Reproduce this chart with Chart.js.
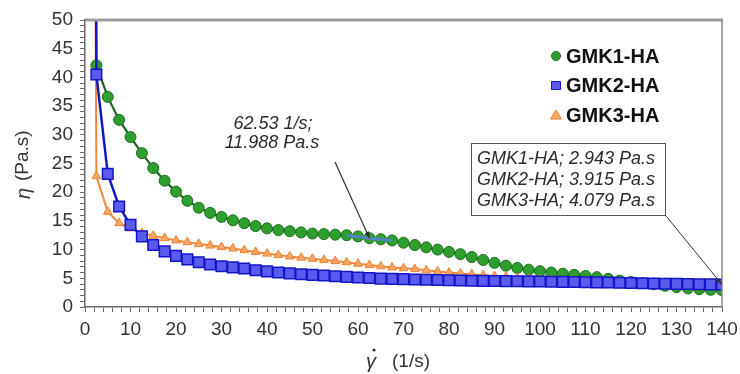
<!DOCTYPE html>
<html>
<head>
<meta charset="utf-8">
<script src="https://cdn.jsdelivr.net/npm/chart.js@4/dist/chart.umd.min.js"></script>
<style>
  body { margin: 0; background: #fff; }
  #wrap { width: 740px; height: 374px; }
</style>
</head>
<body>
<div id="wrap"><canvas id="visc" width="740" height="374"></canvas></div>
<script>
// shear rate (1/s); the first point sits far above the plotted range
var shearRate = [2.0, 2.5, 5, 7.5, 10, 12.5, 15, 17.5, 20, 22.5, 25, 27.5, 30, 32.5, 35, 37.5, 40, 42.5, 45, 47.5, 50,
    52.5, 55, 57.5, 60, 62.5, 65, 67.5, 70, 72.5, 75, 77.5, 80, 82.5, 85, 87.5, 90, 92.5, 95, 97.5, 100,
    102.5, 105, 107.5, 110, 112.5, 115, 117.5, 120, 122.5, 125, 127.5, 130, 132.5, 135, 137.5, 140];

var gmk1 = [120, 42.1, 36.6, 32.6, 29.6, 26.8, 24.2, 22.0, 20.1, 18.5, 17.3, 16.4, 15.7, 15.1, 14.6, 14.1, 13.7, 13.4, 13.2, 13.0, 12.8,
    12.7, 12.6, 12.5, 12.3, 11.988, 11.8, 11.6, 11.2, 10.8, 10.4, 10.0, 9.6, 9.2, 8.7, 8.2, 7.7, 7.2, 6.8, 6.5, 6.25,
    6.0, 5.8, 5.6, 5.4, 5.2, 4.9, 4.6, 4.35, 4.15, 3.95, 3.7, 3.45, 3.25, 3.1, 3.0, 2.943];

var gmk2 = [150, 40.5, 23.2, 17.5, 14.3, 12.3, 10.8, 9.7, 8.9, 8.3, 7.8, 7.4, 7.1, 6.9, 6.7, 6.4, 6.2, 6.0, 5.85, 5.7, 5.6,
    5.5, 5.35, 5.25, 5.15, 5.05, 4.95, 4.9, 4.85, 4.8, 4.75, 4.7, 4.65, 4.62, 4.58, 4.55, 4.52, 4.5, 4.48, 4.46, 4.44,
    4.41, 4.38, 4.35, 4.32, 4.29, 4.26, 4.22, 4.18, 4.14, 4.1, 4.06, 4.03, 4.0, 3.97, 3.94, 3.915];

var gmk3 = [110, 22.8, 16.6, 14.6, 13.7, 12.9, 12.4, 12.0, 11.6, 11.3, 11.0, 10.7, 10.45, 10.2, 9.9, 9.6, 9.3, 9.05, 8.8, 8.6, 8.4,
    8.2, 8.0, 7.8, 7.55, 7.3, 7.1, 6.9, 6.75, 6.6, 6.4, 6.2, 6.0, 5.85, 5.7, 5.55, 5.4, 5.25, 5.05, 4.9, 4.8,
    4.7, 4.62, 4.56, 4.5, 4.46, 4.42, 4.38, 4.34, 4.3, 4.26, 4.22, 4.19, 4.16, 4.13, 4.1, 4.079];

var seriesNames = ["GMK1-HA", "GMK2-HA", "GMK3-HA"];

// selected stretch of GMK1-HA (highlighted in the original software)
var selFrom = 57.5, selTo = 67.5;

// annotations
var pointNote = ["62.53 1/s;", "11.988 Pa.s"];
var pointAt = [62.53, 11.988];
var endNote = ["GMK1-HA; 2.943 Pa.s", "GMK2-HA; 3.915 Pa.s", "GMK3-HA; 4.079 Pa.s"];
var endAt = [140, 3.915];

function toXY(xs, ys) {
    return xs.map(function(x, i) { return {x: x, y: ys[i]}; });
}

var selData = toXY(shearRate, gmk1).filter(function(p) { return p.x >= selFrom && p.x <= selTo; });

var FONT = "'Liberation Sans', Arial, sans-serif";

function arrow(ctx, x1, y1, x2, y2) {
    ctx.beginPath();
    ctx.moveTo(x1, y1);
    ctx.lineTo(x2, y2);
    ctx.stroke();
    var a = Math.atan2(y2 - y1, x2 - x1);
    ctx.beginPath();
    ctx.moveTo(x2, y2);
    ctx.lineTo(x2 - 7 * Math.cos(a - 0.35), y2 - 7 * Math.sin(a - 0.35));
    ctx.lineTo(x2 - 7 * Math.cos(a + 0.35), y2 - 7 * Math.sin(a + 0.35));
    ctx.closePath();
    ctx.fill();
}

var extras = {
    id: 'extras',
    afterDraw: function(chart) {
        var ctx = chart.ctx, area = chart.chartArea;
        var xs = chart.scales.x, ys = chart.scales.y;
        ctx.save();
        // frame top/right
        ctx.strokeStyle = '#9a9a9a';
        ctx.lineWidth = 3;
        ctx.beginPath();
        ctx.moveTo(area.left, area.top);
        ctx.lineTo(area.right + 1, area.top);
        ctx.stroke();
        ctx.lineWidth = 1.5;
        ctx.strokeStyle = '#8a8a8a';
        ctx.beginPath();
        ctx.moveTo(area.right, area.top);
        ctx.lineTo(area.right, area.bottom);
        ctx.stroke();

        // axis titles
        ctx.fillStyle = '#333';
        ctx.textBaseline = 'middle';
        ctx.textAlign = 'left';
        ctx.font = 'italic 20px ' + FONT;
        ctx.fillText('γ', 366, 362);
        ctx.beginPath();
        ctx.arc(374, 350, 1.6, 0, Math.PI * 2);
        ctx.fill();
        ctx.font = '19px ' + FONT;
        ctx.fillText('(1/s)', 392, 362);

        ctx.save();
        ctx.translate(23, 164);
        ctx.rotate(-Math.PI / 2);
        ctx.font = 'italic 20px ' + FONT;
        ctx.fillText('η', -35, 1);
        ctx.font = '19px ' + FONT;
        ctx.fillText('(Pa.s)', -17, 0);
        ctx.restore();

        // legend
        var cols = [['#2e9e2e', '#1a6e1a'], ['#5a5aee', '#1515c8'], ['#f7a868', '#f08030']];
        ctx.font = 'bold 20px ' + FONT;
        for (var i = 0; i < 3; i++) {
            var ly = 56 + i * 29.5, lx = 556;
            ctx.fillStyle = cols[i][0];
            ctx.strokeStyle = cols[i][1];
            ctx.lineWidth = 1;
            ctx.beginPath();
            if (i == 0) ctx.arc(lx, ly, 4.5, 0, Math.PI * 2);
            else if (i == 1) ctx.rect(lx - 4.5, ly - 4, 9, 8);
            else { ctx.moveTo(lx, ly - 5); ctx.lineTo(lx + 5.5, ly + 4); ctx.lineTo(lx - 5.5, ly + 4); ctx.closePath(); }
            ctx.fill();
            ctx.stroke();
            ctx.fillStyle = '#111';
            ctx.fillText(seriesNames[i], 566, ly + 1);
        }

        // point annotation
        ctx.font = 'italic 18px ' + FONT;
        ctx.fillStyle = '#2a2a2a';
        ctx.textAlign = 'center';
        ctx.fillText(pointNote[0], 273, 124);
        ctx.fillText(pointNote[1], 272, 143);
        ctx.strokeStyle = '#333';
        ctx.fillStyle = '#333';
        ctx.lineWidth = 1.2;
        arrow(ctx, 335, 162, xs.getPixelForValue(pointAt[0]), ys.getPixelForValue(pointAt[1]));

        // end box
        ctx.fillStyle = '#fff';
        ctx.fillRect(471, 143, 195, 73);
        ctx.strokeStyle = '#555';
        ctx.lineWidth = 1;
        ctx.strokeRect(471.5, 143.5, 194, 72);
        ctx.fillStyle = '#2a2a2a';
        ctx.textAlign = 'left';
        for (var j = 0; j < endNote.length; j++) {
            ctx.fillText(endNote[j], 477, 159 + j * 21);
        }
        ctx.strokeStyle = '#333';
        ctx.fillStyle = '#333';
        arrow(ctx, 666, 216, xs.getPixelForValue(endAt[0]), ys.getPixelForValue(endAt[1]));
        ctx.restore();
    }
};

new Chart(document.getElementById("visc"), {
    type: 'line',
    data: {
        datasets: [{
            label: seriesNames[0],
            data: toXY(shearRate, gmk1),
            borderColor: '#1a661a',
            borderWidth: 2.2,
            backgroundColor: '#2e9e2e',
            pointBackgroundColor: '#2e9e2e',
            pointBorderColor: '#1a6e1a',
            pointBorderWidth: 1,
            pointStyle: 'circle',
            pointRadius: 5.5,
            order: 2
        }, {
            label: seriesNames[1],
            data: toXY(shearRate, gmk2),
            borderColor: '#1515c8',
            borderWidth: 2.5,
            pointBackgroundColor: '#5a5aee',
            pointBorderColor: '#1515c8',
            pointBorderWidth: 1.5,
            pointStyle: 'rect',
            pointRadius: 7.5,
            order: 0
        }, {
            label: seriesNames[2],
            data: toXY(shearRate, gmk3),
            borderColor: '#f0873a',
            borderWidth: 2,
            pointBackgroundColor: '#f7a868',
            pointBorderColor: '#f08030',
            pointBorderWidth: 1,
            pointStyle: 'triangle',
            pointRadius: 5,
            order: 1
        }, {
            label: 'selection',
            data: selData,
            borderColor: '#4f86c0',
            borderWidth: 3,
            pointRadius: 0,
            order: -1
        }]
    },
    options: {
        responsive: false,
        animation: false,
        layout: {padding: {top: 20, right: 18, left: 0, bottom: 0}},
        plugins: {
            legend: {display: false},
            tooltip: {enabled: false}
        },
        scales: {
            x: {
                type: 'linear',
                min: 0,
                max: 140,
                afterFit: function(s) { s.height = 67; s.paddingRight = 0; s.paddingLeft = 0; },
                border: {display: true, color: '#6a6a6a', width: 1.5},
                grid: {drawOnChartArea: false, drawTicks: true, tickLength: 5, color: '#6a6a6a'},
                ticks: {
                    stepSize: 2,
                    autoSkip: false,
                    maxRotation: 0,
                    padding: 6,
                    color: '#333',
                    font: {family: FONT, size: 19},
                    callback: function(v) { return v % 10 === 0 ? v : ''; }
                }
            },
            y: {
                type: 'linear',
                min: 0,
                max: 50,
                afterFit: function(s) { s.width = 85; },
                border: {display: true, color: '#6a6a6a', width: 1.5},
                grid: {drawOnChartArea: false, drawTicks: true, tickLength: 5, color: '#6a6a6a'},
                ticks: {
                    stepSize: 1,
                    autoSkip: false,
                    padding: 7,
                    color: '#333',
                    font: {family: FONT, size: 19},
                    callback: function(v) { return v % 5 === 0 ? v : ''; }
                }
            }
        }
    },
    plugins: [extras]
});
</script>
</body>
</html>
